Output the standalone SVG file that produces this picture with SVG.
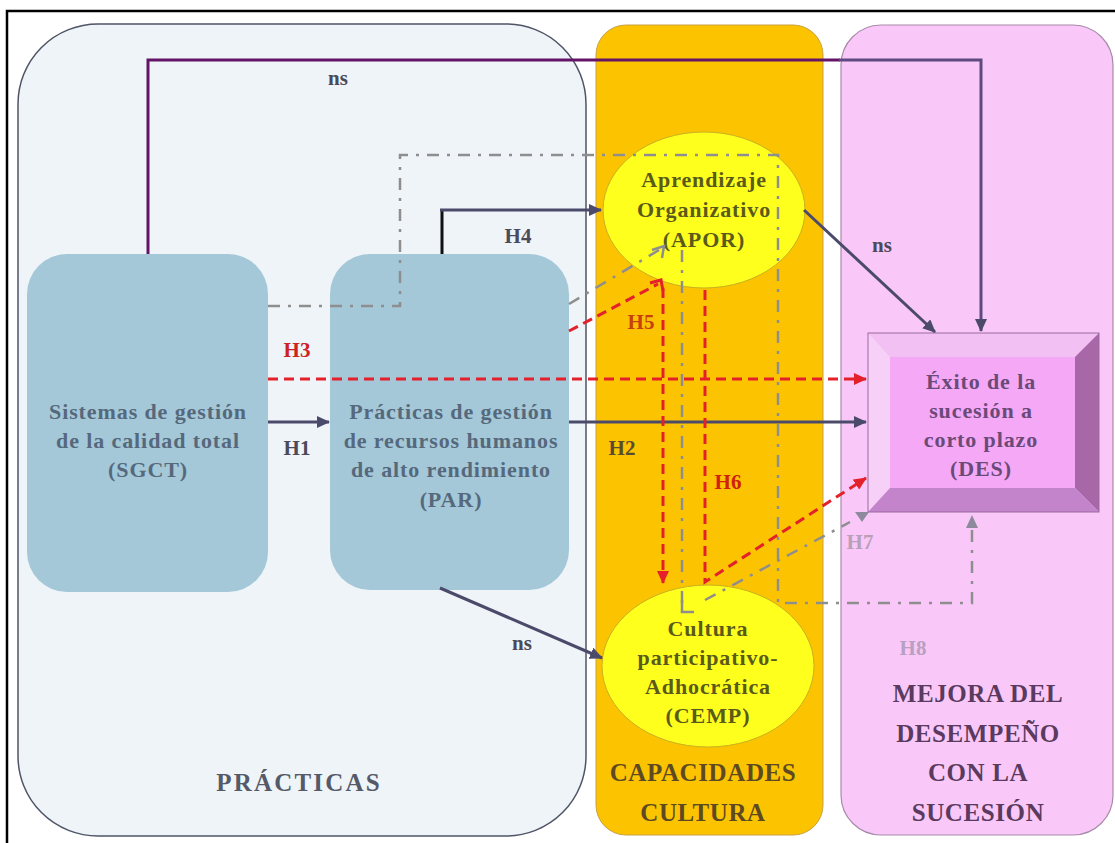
<svg xmlns="http://www.w3.org/2000/svg" width="1115" height="843" viewBox="0 0 1115 843">
  <style>
    .node-text { font-family: "Liberation Serif", "Times New Roman", serif; font-weight: bold; font-size: 22px; letter-spacing: 0.9px; text-anchor: middle; }
    .panel-title { font-family: "Liberation Serif", "Times New Roman", serif; font-weight: bold; font-size: 25px; letter-spacing: 0.6px; text-anchor: middle; }
    .lbl { font-family: "Liberation Serif", "Times New Roman", serif; font-weight: bold; font-size: 21px; text-anchor: middle; }
    .solid { fill: none; stroke: #4b4a6b; stroke-width: 3; }
    .red { fill: none; stroke: #e4202a; stroke-width: 3; stroke-dasharray: 10 6; }
    .gray { fill: none; stroke: #8e8e8e; stroke-width: 2.5; stroke-dasharray: 12 8 3 8; }
  </style>
  <defs>
    <marker id="arr" markerUnits="userSpaceOnUse" markerWidth="14" markerHeight="12" refX="12" refY="6" orient="auto">
      <path d="M0,0 L13,6 L0,12 Z" fill="#4b4a6b"/>
    </marker>
    <marker id="arr-red" markerUnits="userSpaceOnUse" markerWidth="14" markerHeight="12" refX="12" refY="6" orient="auto">
      <path d="M0,0 L13,6 L0,12 Z" fill="#e4202a"/>
    </marker>
    <marker id="arr-gray" markerUnits="userSpaceOnUse" markerWidth="14" markerHeight="12" refX="12" refY="6" orient="auto">
      <path d="M0,0 L13,6 L0,12 Z" fill="#8e8a9e"/>
    </marker>
  </defs>

  <rect x="0" y="0" width="1115" height="843" fill="#ffffff"/>
  <!-- outer frame -->
  <path d="M7,843 V11 H1115" fill="none" stroke="#000000" stroke-width="2.5"/>

  <!-- column panels -->
  <g id="panel-practicas">
    <rect x="18" y="24" width="568" height="812" rx="80" ry="80" fill="#eef4f8" stroke="#4f5466" stroke-width="1.5"/>
    <text class="panel-title" x="299" y="791" fill="#555a6a" style="letter-spacing:2.2px">PRÁCTICAS</text>
  </g>
  <g id="panel-capacidades">
    <rect x="596" y="25" width="227" height="810" rx="30" ry="30" fill="#fcc400" stroke="#c8a040" stroke-width="1"/>
    <text class="panel-title" x="703" y="781" fill="#5e4a22">CAPACIDADES</text>
    <text class="panel-title" x="703" y="821" fill="#5e4a22">CULTURA</text>
  </g>
  <g id="panel-mejora">
    <rect x="841" y="25" width="272" height="810" rx="40" ry="40" fill="#f9c8f9" stroke="#a88aaa" stroke-width="1.2"/>
    <text class="panel-title" x="978" y="702" fill="#5a3a5e">MEJORA DEL</text>
    <text class="panel-title" x="978" y="742" fill="#5a3a5e">DESEMPEÑO</text>
    <text class="panel-title" x="978" y="781" fill="#5a3a5e">CON LA</text>
    <text class="panel-title" x="978" y="821" fill="#5a3a5e">SUCESIÓN</text>
  </g>

  <!-- nodes -->
  <g id="node-sgct">
    <rect x="27" y="254" width="241" height="338" rx="40" ry="40" fill="#a4c8d8"/>
    <text class="node-text" x="148" y="419" fill="#56687c">Sistemas de gestión</text>
    <text class="node-text" x="148" y="448" fill="#56687c">de la calidad total</text>
    <text class="node-text" x="148" y="477" fill="#56687c">(SGCT)</text>
  </g>
  <g id="node-par">
    <rect x="330" y="254" width="239" height="336" rx="40" ry="40" fill="#a4c8d8"/>
    <text class="node-text" x="451" y="419" fill="#56687c">Prácticas de gestión</text>
    <text class="node-text" x="451" y="448" fill="#56687c">de recursos humanos</text>
    <text class="node-text" x="451" y="477" fill="#56687c">de alto rendimiento</text>
    <text class="node-text" x="451" y="507" fill="#56687c">(PAR)</text>
  </g>
  <g id="node-apor">
    <ellipse cx="704" cy="210" rx="101" ry="78" fill="#ffff1e" stroke="#c8b020" stroke-width="1"/>
    <text class="node-text" x="704" y="187" fill="#5a5a1a">Aprendizaje</text>
    <text class="node-text" x="704" y="217" fill="#5a5a1a">Organizativo</text>
    <text class="node-text" x="704" y="247" fill="#5a5a1a">(APOR)</text>
  </g>
  <g id="node-cemp">
    <ellipse cx="708" cy="666" rx="106" ry="81" fill="#ffff1e" stroke="#c8b020" stroke-width="1"/>
    <text class="node-text" x="708" y="636" fill="#5a5a1a">Cultura</text>
    <text class="node-text" x="708" y="665" fill="#5a5a1a">participativo-</text>
    <text class="node-text" x="708" y="694" fill="#5a5a1a">Adhocrática</text>
    <text class="node-text" x="708" y="723" fill="#5a5a1a">(CEMP)</text>
  </g>
  <g id="node-des">
    <polygon points="868,333 1099,333 1075,357 890,357" fill="#f2c0f2"/>
    <polygon points="868,333 890,357 890,488 868,512" fill="#f6d0f6"/>
    <polygon points="1099,333 1099,512 1075,488 1075,357" fill="#a868a8"/>
    <polygon points="868,512 1099,512 1075,488 890,488" fill="#c484cc"/>
    <rect x="890" y="357" width="185" height="131" fill="#f5a8f5"/>
    <rect x="868" y="333" width="231" height="179" fill="none" stroke="#9a6aa0" stroke-width="1"/>
    <text class="node-text" x="981" y="389" fill="#6a4a78">Éxito de la</text>
    <text class="node-text" x="981" y="418" fill="#6a4a78">sucesión a</text>
    <text class="node-text" x="981" y="447" fill="#6a4a78">corto plazo</text>
    <text class="node-text" x="981" y="476" fill="#6a4a78">(DES)</text>
  </g>

  <!-- connectors -->
  <g id="connectors">
    <!-- SGCT -> DES (ns) -->
    <path d="M148,254 V60 H840" fill="none" stroke="#641466" stroke-width="3"/>
    <path d="M839,60 H981 V331" fill="none" stroke="#5e4a80" stroke-width="3" marker-end="url(#arr)"/>

    <!-- H8: SGCT -> DES, dash-dot -->
    <path class="gray" d="M268,306 H400 V155 H778 V603 H972 V516" marker-end="url(#arr-gray)"/>

    <!-- H4: PAR -> APOR -->
    <path d="M442,254 V210" fill="none" stroke="#111111" stroke-width="3"/>
    <path class="solid" d="M440,210 H601" marker-end="url(#arr)"/>

    <!-- H1, H2 -->
    <path class="solid" d="M268,422 H329" marker-end="url(#arr)"/>
    <path class="solid" d="M569,422 H866" marker-end="url(#arr)"/>

    <!-- H3: SGCT -> DES -->
    <path class="red" d="M268,379 H866" marker-end="url(#arr-red)"/>

    <!-- H7 dash-dot paths via APOR and CEMP -->
    <path class="gray" d="M569,304 L664,247"/>
    <path d="M652,250 L664,246 L662,258" fill="none" stroke="#8e8e8e" stroke-width="2.5"/>
    <path class="gray" d="M682,250 V612"/>
    <path d="M682,600 V612 H694" fill="none" stroke="#8e8e8e" stroke-width="2.5"/>
    <path class="gray" d="M705,600 L850,522"/>
    <polygon points="855,512 869,512 862,522" fill="#8e8a9e"/>

    <!-- H5: PAR -> APOR -> CEMP -->
    <path class="red" d="M569,331 L658,284"/>
    <path d="M650,283 L661,280 L663,291" fill="none" stroke="#e4202a" stroke-width="3"/>
    <path class="red" d="M663,288 V583" marker-end="url(#arr-red)"/>

    <!-- H6: APOR -> CEMP -> DES -->
    <path class="red" d="M705,290 V582 L866,478" marker-end="url(#arr-red)"/>

    <!-- ns: APOR -> DES, PAR -> CEMP -->
    <path class="solid" d="M804,210 L935,332" marker-end="url(#arr)"/>
    <path class="solid" d="M440,588 L602,658" marker-end="url(#arr)"/>
  </g>

  <!-- connector labels -->
  <g id="labels">
    <text class="lbl" x="338" y="85" fill="#4a4a5a">ns</text>
    <text class="lbl" x="518" y="243" fill="#4a4a5a">H4</text>
    <text class="lbl" x="297" y="357" fill="#cc2222">H3</text>
    <text class="lbl" x="297" y="455" fill="#4a4a5a">H1</text>
    <text class="lbl" x="622" y="455" fill="#5a4a30">H2</text>
    <text class="lbl" x="641" y="329" fill="#c84010">H5</text>
    <text class="lbl" x="728" y="489" fill="#d02010">H6</text>
    <text class="lbl" x="860" y="549" fill="#b8a0b8">H7</text>
    <text class="lbl" x="913" y="655" fill="#b8a0c0">H8</text>
    <text class="lbl" x="882" y="252" fill="#4a4a5a">ns</text>
    <text class="lbl" x="522" y="650" fill="#4a4a5a">ns</text>
  </g>
</svg>
